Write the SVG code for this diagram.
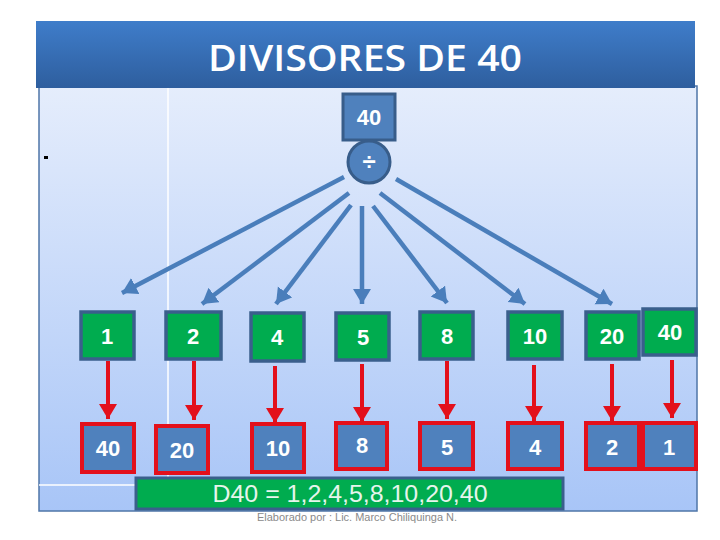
<svg xmlns="http://www.w3.org/2000/svg" width="720" height="540" viewBox="0 0 720 540">
<defs>
<linearGradient id="gTitle" x1="0" y1="0" x2="0" y2="1"><stop offset="0" stop-color="#3f7dca"/><stop offset="1" stop-color="#2e5e9e"/></linearGradient>
<linearGradient id="gPanel" x1="0" y1="0" x2="0" y2="1"><stop offset="0" stop-color="#e5edfc"/><stop offset="1" stop-color="#a8c5f7"/></linearGradient>
<marker id="mb" markerUnits="userSpaceOnUse" markerWidth="20" markerHeight="20" refX="15" refY="9" orient="auto"><path d="M0,0 L15,9 L0,18 z" fill="#4a7ebb"/></marker>
<marker id="mr" markerUnits="userSpaceOnUse" markerWidth="20" markerHeight="20" refX="15" refY="9" orient="auto"><path d="M0,0 L15,9 L0,18 z" fill="#e3101b"/></marker>
<style>
.t{font-family:"Liberation Sans","DejaVu Sans",sans-serif;fill:#fff;font-weight:bold;text-anchor:middle}
.n{font-size:22px}
.g{fill:#00ac4f;stroke:#3a5f8c;stroke-width:3.5}
.r{fill:#4f81bd;stroke:#e3101b;stroke-width:4}
.ab{stroke:#4a7ebb;stroke-width:4.5;fill:none;marker-end:url(#mb)}
.ar{stroke:#e3101b;stroke-width:4;fill:none;marker-end:url(#mr)}
</style>
</defs>
<rect x="0" y="0" width="720" height="540" fill="#fff"/>
<g id="panel">
<rect x="39" y="86" width="658" height="425" fill="url(#gPanel)" stroke="#4f76a8" stroke-width="1.5"/>
<line x1="168" y1="88" x2="168" y2="486" stroke="#fff" stroke-width="1.5"/>
<line x1="39" y1="485" x2="135" y2="485" stroke="#fff" stroke-width="1.5"/>
<rect x="44" y="156" width="4" height="3" fill="#000"/>
</g>
<g id="title">
<rect x="36" y="21" width="659" height="67" fill="url(#gTitle)"/>
<text x="365" y="71" font-family="Open Sans, Liberation Sans, sans-serif" font-weight="600" font-size="36" fill="#fff" text-anchor="middle" textLength="314" lengthAdjust="spacingAndGlyphs">DIVISORES  DE 40</text>
</g>
<g id="connectors">
<line class="ab" x1="344" y1="177" x2="122" y2="293"/>
<line class="ab" x1="349" y1="193" x2="202" y2="304"/>
<line class="ab" x1="351" y1="205" x2="276" y2="304"/>
<line class="ab" x1="362" y1="206" x2="362" y2="304"/>
<line class="ab" x1="373" y1="206" x2="447" y2="303"/>
<line class="ab" x1="380" y1="193" x2="525" y2="304"/>
<line class="ab" x1="396" y1="179" x2="612" y2="304"/>
<line class="ar" x1="108" y1="361" x2="108" y2="419"/>
<line class="ar" x1="194" y1="361" x2="194" y2="420"/>
<line class="ar" x1="275" y1="366" x2="275" y2="423"/>
<line class="ar" x1="362" y1="364" x2="362" y2="422"/>
<line class="ar" x1="447" y1="361" x2="447" y2="419"/>
<line class="ar" x1="534" y1="365" x2="534" y2="421"/>
<line class="ar" x1="612" y1="364" x2="612" y2="421"/>
<line class="ar" x1="672" y1="360" x2="672" y2="418"/>
</g>
<g id="root">
<rect x="343" y="94" width="52" height="46" fill="#4f81bd" stroke="#385d8a" stroke-width="3"/>
<text class="t n" x="369" y="125">40</text>
</g>
<g id="divide">
<circle cx="369" cy="162" r="21" fill="#4f81bd" stroke="#385d8a" stroke-width="3"/>
<text class="t" x="369" y="170" font-size="24">÷</text>
</g>
<g id="d1"><rect class="g" x="81" y="312" width="53" height="47"/><text class="t n" x="107" y="344">1</text></g>
<g id="d2"><rect class="g" x="166" y="312" width="55" height="47"/><text class="t n" x="193" y="344">2</text></g>
<g id="d4"><rect class="g" x="251" y="313" width="53" height="48"/><text class="t n" x="277" y="345">4</text></g>
<g id="d5"><rect class="g" x="336" y="313" width="53" height="47"/><text class="t n" x="363" y="345">5</text></g>
<g id="d8"><rect class="g" x="420" y="312" width="53" height="47"/><text class="t n" x="447" y="344">8</text></g>
<g id="d10"><rect class="g" x="508" y="312" width="54" height="47"/><text class="t n" x="535" y="344">10</text></g>
<g id="d20"><rect class="g" x="586" y="312" width="53" height="47"/><text class="t n" x="612" y="344">20</text></g>
<g id="d40"><rect class="g" x="643" y="309" width="53" height="46"/><text class="t n" x="670" y="340">40</text></g>
<g id="q40"><rect class="r" x="82" y="424" width="52" height="48"/><text class="t n" x="108" y="456">40</text></g>
<g id="q20"><rect class="r" x="156" y="426" width="52" height="47"/><text class="t n" x="182" y="458">20</text></g>
<g id="q10"><rect class="r" x="252" y="424" width="52" height="48"/><text class="t n" x="278" y="456">10</text></g>
<g id="q8"><rect class="r" x="336" y="423" width="51" height="46"/><text class="t n" x="362" y="453">8</text></g>
<g id="q5"><rect class="r" x="420" y="423" width="53" height="46"/><text class="t n" x="447" y="455">5</text></g>
<g id="q4"><rect class="r" x="508" y="423" width="54" height="46"/><text class="t n" x="535" y="455">4</text></g>
<g id="q2"><rect class="r" x="586" y="423" width="53" height="46"/><text class="t n" x="612" y="455">2</text></g>
<g id="q1"><rect class="r" x="643" y="423" width="53" height="46"/><text class="t n" x="669" y="455">1</text></g>
<g id="result">
<rect x="136" y="478" width="427" height="31" fill="#00ac4f" stroke="#3a5f8c" stroke-width="3"/>
<text x="350" y="502" font-family="Liberation Sans, DejaVu Sans, sans-serif" font-size="23" fill="#e6f5ec" text-anchor="middle" textLength="275" lengthAdjust="spacingAndGlyphs">D40 = 1,2,4,5,8,10,20,40</text>
</g>
<g id="footer">
<text x="357" y="521" font-family="Liberation Sans, DejaVu Sans, sans-serif" font-size="11" fill="#8a8a8a" text-anchor="middle" textLength="200" lengthAdjust="spacingAndGlyphs">Elaborado por : Lic. Marco Chiliquinga N.</text>
</g>
</svg>
